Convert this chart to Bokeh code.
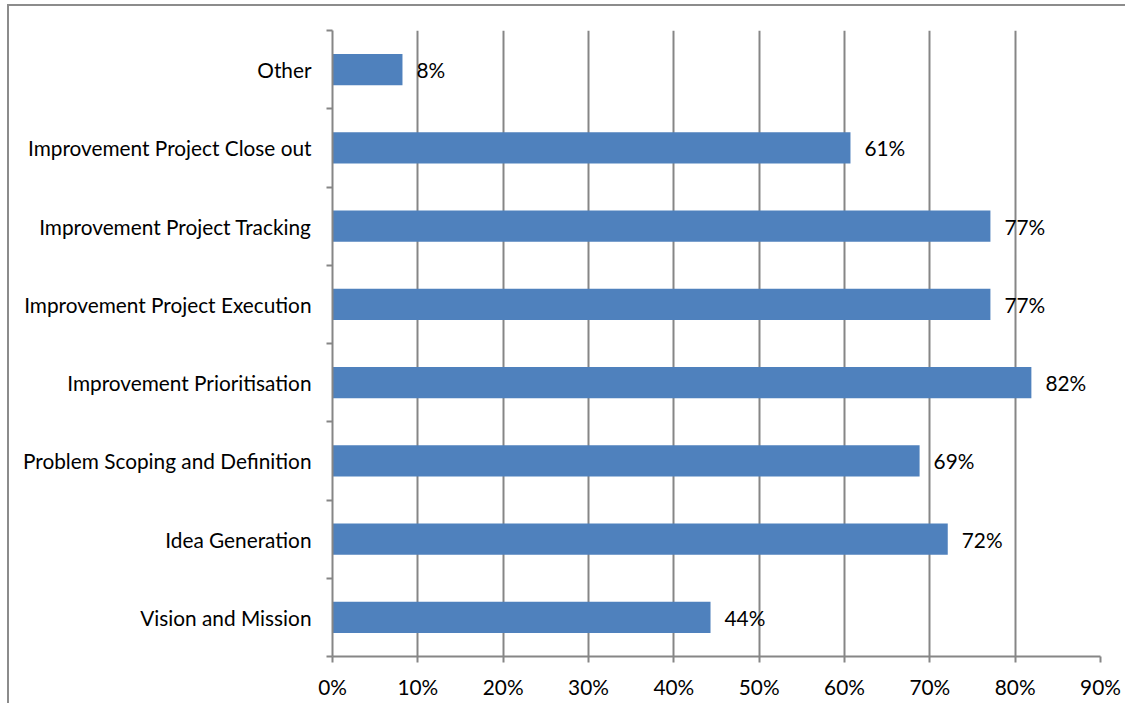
from bokeh.plotting import figure
from bokeh.models import FixedTicker, NumeralTickFormatter, ColumnDataSource, Range1d
from bokeh.core.properties import value
from bokeh.embed import file_html
from bokeh.resources import INLINE

categories = ["Vision and Mission", "Idea Generation", "Problem Scoping and Definition",
              "Improvement Prioritisation", "Improvement Project Execution",
              "Improvement Project Tracking", "Improvement Project Close out", "Other"]
values = [0.443, 0.721, 0.688, 0.819, 0.771, 0.771, 0.607, 0.082]
labels = ["44%", "72%", "69%", "82%", "77%", "77%", "61%", "8%"]
x_ticks = [0, 0.1, 0.2, 0.3, 0.4, 0.5, 0.6, 0.7, 0.8, 0.9]

FONT = "Lato"
FS = "20.8px"
GRAY = "#868686"

pos = [i + 0.5 for i in range(len(categories))]
src = ColumnDataSource(dict(y=pos, v=values, lab=labels))

p = figure(width=1118, height=699, output_backend="svg", toolbar_location=None,
           x_range=Range1d(0, 0.9), y_range=Range1d(0, len(categories)),
           min_border_left=323, min_border_right=27, min_border_top=24, min_border_bottom=49,
           styles={"border-top": "2px solid #8c8c8c", "border-left": "2px solid #8c8c8c",
                   "margin-left": "7px", "margin-top": "4px"})
p.outline_line_color = None

p.hbar(y="y", right="v", left=0, height=0.4, source=src, color="#4F81BD", line_color=None)
p.text(x="v", y="y", text="lab", source=src, x_offset=14, text_baseline="middle",
       text_align="left", text_font=value(FONT), text_font_size=FS, text_color="black")

p.xaxis.ticker = FixedTicker(ticks=x_ticks)
p.xaxis.formatter = NumeralTickFormatter(format="0%")
p.xaxis.major_tick_in = 0
p.xaxis.major_tick_out = 6
p.xaxis.minor_tick_line_color = None
p.xaxis.axis_line_color = GRAY
p.xaxis.axis_line_width = 2
p.xaxis.major_tick_line_color = GRAY
p.xaxis.major_tick_line_width = 2
p.xaxis.major_label_text_font = FONT
p.xaxis.major_label_text_font_size = FS
p.xaxis.major_label_text_color = "black"
p.xaxis.major_label_standoff = 11

p.yaxis.ticker = FixedTicker(ticks=pos, minor_ticks=list(range(len(categories) + 1)))
p.yaxis.major_label_overrides = {pos[i]: categories[i] for i in range(len(categories))}
p.yaxis.major_tick_in = 0
p.yaxis.major_tick_out = 0
p.yaxis.minor_tick_in = 0
p.yaxis.minor_tick_out = 6
p.yaxis.minor_tick_line_color = GRAY
p.yaxis.minor_tick_line_width = 2
p.yaxis.axis_line_color = GRAY
p.yaxis.axis_line_width = 2
p.yaxis.major_label_text_font = FONT
p.yaxis.major_label_text_font_size = FS
p.yaxis.major_label_text_color = "black"
p.yaxis.major_label_standoff = 15

p.xgrid.ticker = FixedTicker(ticks=x_ticks[1:])
p.xgrid.grid_line_color = GRAY
p.xgrid.grid_line_width = 2
p.ygrid.grid_line_color = None

open("out.html", "w").write(file_html(p, INLINE))
